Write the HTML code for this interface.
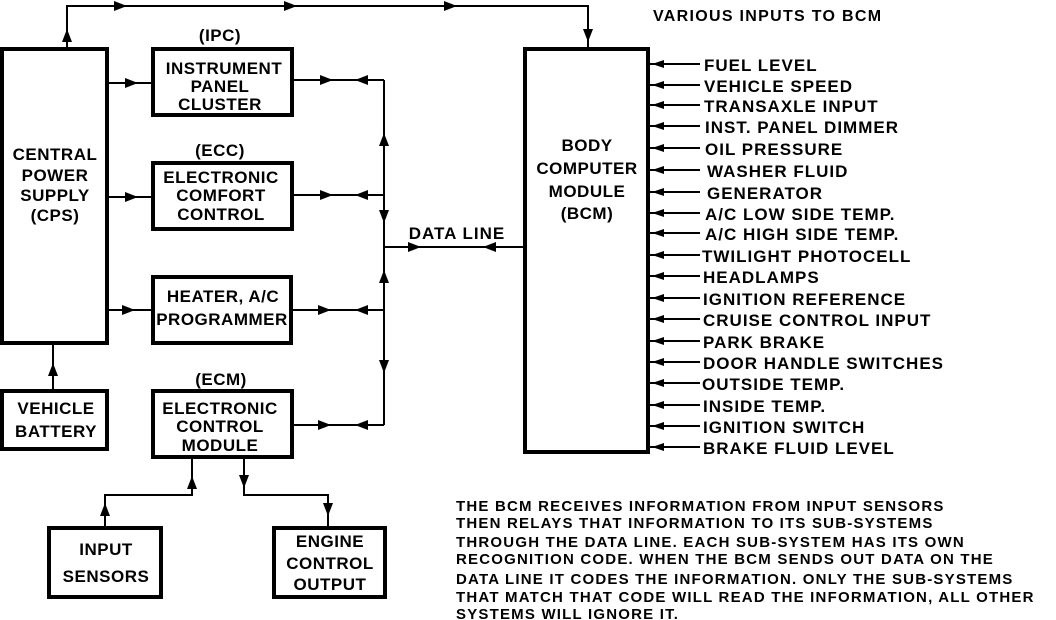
<!DOCTYPE html>
<html><head><meta charset="utf-8"><style>
body{margin:0;background:#fff}
svg{display:block}
text{font-family:"Liberation Sans",Arial,sans-serif;font-weight:bold;fill:#000}
</style></head><body>
<svg width="1056" height="620" viewBox="0 0 1056 620" xmlns="http://www.w3.org/2000/svg">
<g fill="none" stroke="#000" stroke-width="4">
<rect x="2" y="49" width="105" height="294"/>
<rect x="153" y="49" width="139" height="66"/>
<rect x="153" y="163" width="139" height="66"/>
<rect x="153" y="277" width="138" height="66"/>
<rect x="153" y="391" width="139" height="66"/>
<rect x="2" y="391" width="105" height="58"/>
<rect x="49" y="528" width="112" height="69"/>
<rect x="274" y="528" width="111" height="69"/>
<rect x="525" y="49" width="123" height="403"/>
</g>
<g fill="none" stroke="#000" stroke-width="2">
<path d="M67 49 V6 H588 V49"/>
<path d="M107 83 H153 M107 197 H153 M107 310 H153"/>
<path d="M53 391 V343"/>
<path d="M292 80 H384 M292 195 H384 M291 310 H384 M292 425 H384 M384 80 V425 M384 247 H525"/>
<path d="M192 457 V495 H105 V528 M244 457 V495 H328 V528"/>
<path d="M650 64 H700 M650 85 H700 M650 105 H700 M650 126 H700 M650 148 H700 M650 170 H700 M650 192 H700 M650 213 H700 M650 233 H700 M650 255 H700 M650 276 H700 M650 298 H700 M650 319 H700 M650 341 H700 M650 362 H700 M650 383 H700 M650 405 H700 M650 426 H700 M650 447 H700"/>
</g>
<g fill="#000">
<path d="M114 1 L127 6 L114 11z M284 1 L297 6 L284 11z M444 1 L457 6 L444 11z"/>
<path d="M62 42 L67 29 L72 42z M583 29 L588 42 L593 29z"/>
<path d="M125 78 L138 83 L125 88z M125 192 L138 197 L125 202z M122 305 L135 310 L122 315z"/>
<path d="M48 376 L53 363 L58 376z"/>
<path d="M320 75 L333 80 L320 85z M368 75 L355 80 L368 85z"/>
<path d="M320 190 L333 195 L320 200z M368 190 L355 195 L368 200z"/>
<path d="M318 305 L331 310 L318 315z M368 305 L355 310 L368 315z"/>
<path d="M318 420 L331 425 L318 430z M368 420 L355 425 L368 430z"/>
<path d="M379 146 L384 133 L389 146z M379 210 L384 223 L389 210z M379 283 L384 270 L389 283z M379 360 L384 373 L389 360z"/>
<path d="M408 242 L421 247 L408 252z M496 242 L483 247 L496 252z"/>
<path d="M187 489 L192 476 L197 489z M100 516 L105 503 L110 516z M239 475 L244 488 L249 475z M323 503 L328 516 L333 503z"/>
<path d="M652 64 l12 -4 v8z M652 85 l12 -4 v8z M652 105 l12 -4 v8z M652 126 l12 -4 v8z M652 148 l12 -4 v8z M652 170 l12 -4 v8z M652 192 l12 -4 v8z M652 213 l12 -4 v8z M652 233 l12 -4 v8z M652 255 l12 -4 v8z M652 276 l12 -4 v8z M652 298 l12 -4 v8z M652 319 l12 -4 v8z M652 341 l12 -4 v8z M652 362 l12 -4 v8z M652 383 l12 -4 v8z M652 405 l12 -4 v8z M652 426 l12 -4 v8z M652 447 l12 -4 v8z"/>
</g>
<g font-size="17" text-anchor="middle" style="letter-spacing:0.5px">
<text x="220" y="41">(IPC)</text>
<text x="224" y="74">INSTRUMENT</text>
<text x="220" y="92">PANEL</text>
<text x="220" y="110">CLUSTER</text>
<text x="220" y="156">(ECC)</text>
<text x="221" y="183">ELECTRONIC</text>
<text x="221" y="201">COMFORT</text>
<text x="221" y="220">CONTROL</text>
<text x="223" y="302">HEATER, A/C</text>
<text x="222" y="325">PROGRAMMER</text>
<text x="221" y="385">(ECM)</text>
<text x="220" y="414">ELECTRONIC</text>
<text x="220" y="432">CONTROL</text>
<text x="220" y="451">MODULE</text>
<text x="55" y="160">CENTRAL</text>
<text x="55" y="181">POWER</text>
<text x="55" y="201">SUPPLY</text>
<text x="55" y="221">(CPS)</text>
<text x="56" y="414">VEHICLE</text>
<text x="56" y="437">BATTERY</text>
<text x="106" y="555">INPUT</text>
<text x="106" y="582">SENSORS</text>
<text x="330" y="547">ENGINE</text>
<text x="330" y="569">CONTROL</text>
<text x="330" y="590">OUTPUT</text>
<text x="587" y="151">BODY</text>
<text x="587" y="174">COMPUTER</text>
<text x="587" y="197">MODULE</text>
<text x="587" y="219">(BCM)</text>
<text x="457" y="239" style="letter-spacing:1px">DATA LINE</text>
</g>
<g font-size="17" style="letter-spacing:1px">
<text x="653" y="21" font-size="16" style="letter-spacing:1.3px">VARIOUS INPUTS TO BCM</text>
<text x="704" y="71">FUEL LEVEL</text>
<text x="704" y="92">VEHICLE SPEED</text>
<text x="704" y="112">TRANSAXLE INPUT</text>
<text x="705" y="133">INST. PANEL DIMMER</text>
<text x="705" y="155">OIL PRESSURE</text>
<text x="707" y="177">WASHER FLUID</text>
<text x="707" y="199">GENERATOR</text>
<text x="705" y="220">A/C LOW SIDE TEMP.</text>
<text x="705" y="240">A/C HIGH SIDE TEMP.</text>
<text x="702" y="262">TWILIGHT PHOTOCELL</text>
<text x="703" y="283">HEADLAMPS</text>
<text x="703" y="305">IGNITION REFERENCE</text>
<text x="703" y="326">CRUISE CONTROL INPUT</text>
<text x="703" y="348">PARK BRAKE</text>
<text x="703" y="369">DOOR HANDLE SWITCHES</text>
<text x="702" y="390">OUTSIDE TEMP.</text>
<text x="703" y="412">INSIDE TEMP.</text>
<text x="703" y="433">IGNITION SWITCH</text>
<text x="703" y="454">BRAKE FLUID LEVEL</text>
</g>
<g font-size="15" style="letter-spacing:1.2px">
<text x="456" y="511">THE BCM RECEIVES INFORMATION FROM INPUT SENSORS</text>
<text x="456" y="528">THEN RELAYS THAT INFORMATION TO ITS SUB-SYSTEMS</text>
<text x="456" y="547">THROUGH THE DATA LINE. EACH SUB-SYSTEM HAS ITS OWN</text>
<text x="456" y="564">RECOGNITION CODE. WHEN THE BCM SENDS OUT DATA ON THE</text>
<text x="456" y="584">DATA LINE IT CODES THE INFORMATION. ONLY THE SUB-SYSTEMS</text>
<text x="456" y="602">THAT MATCH THAT CODE WILL READ THE INFORMATION, ALL OTHER</text>
<text x="456" y="619">SYSTEMS WILL IGNORE IT.</text>
</g>
</svg>
</body></html>
